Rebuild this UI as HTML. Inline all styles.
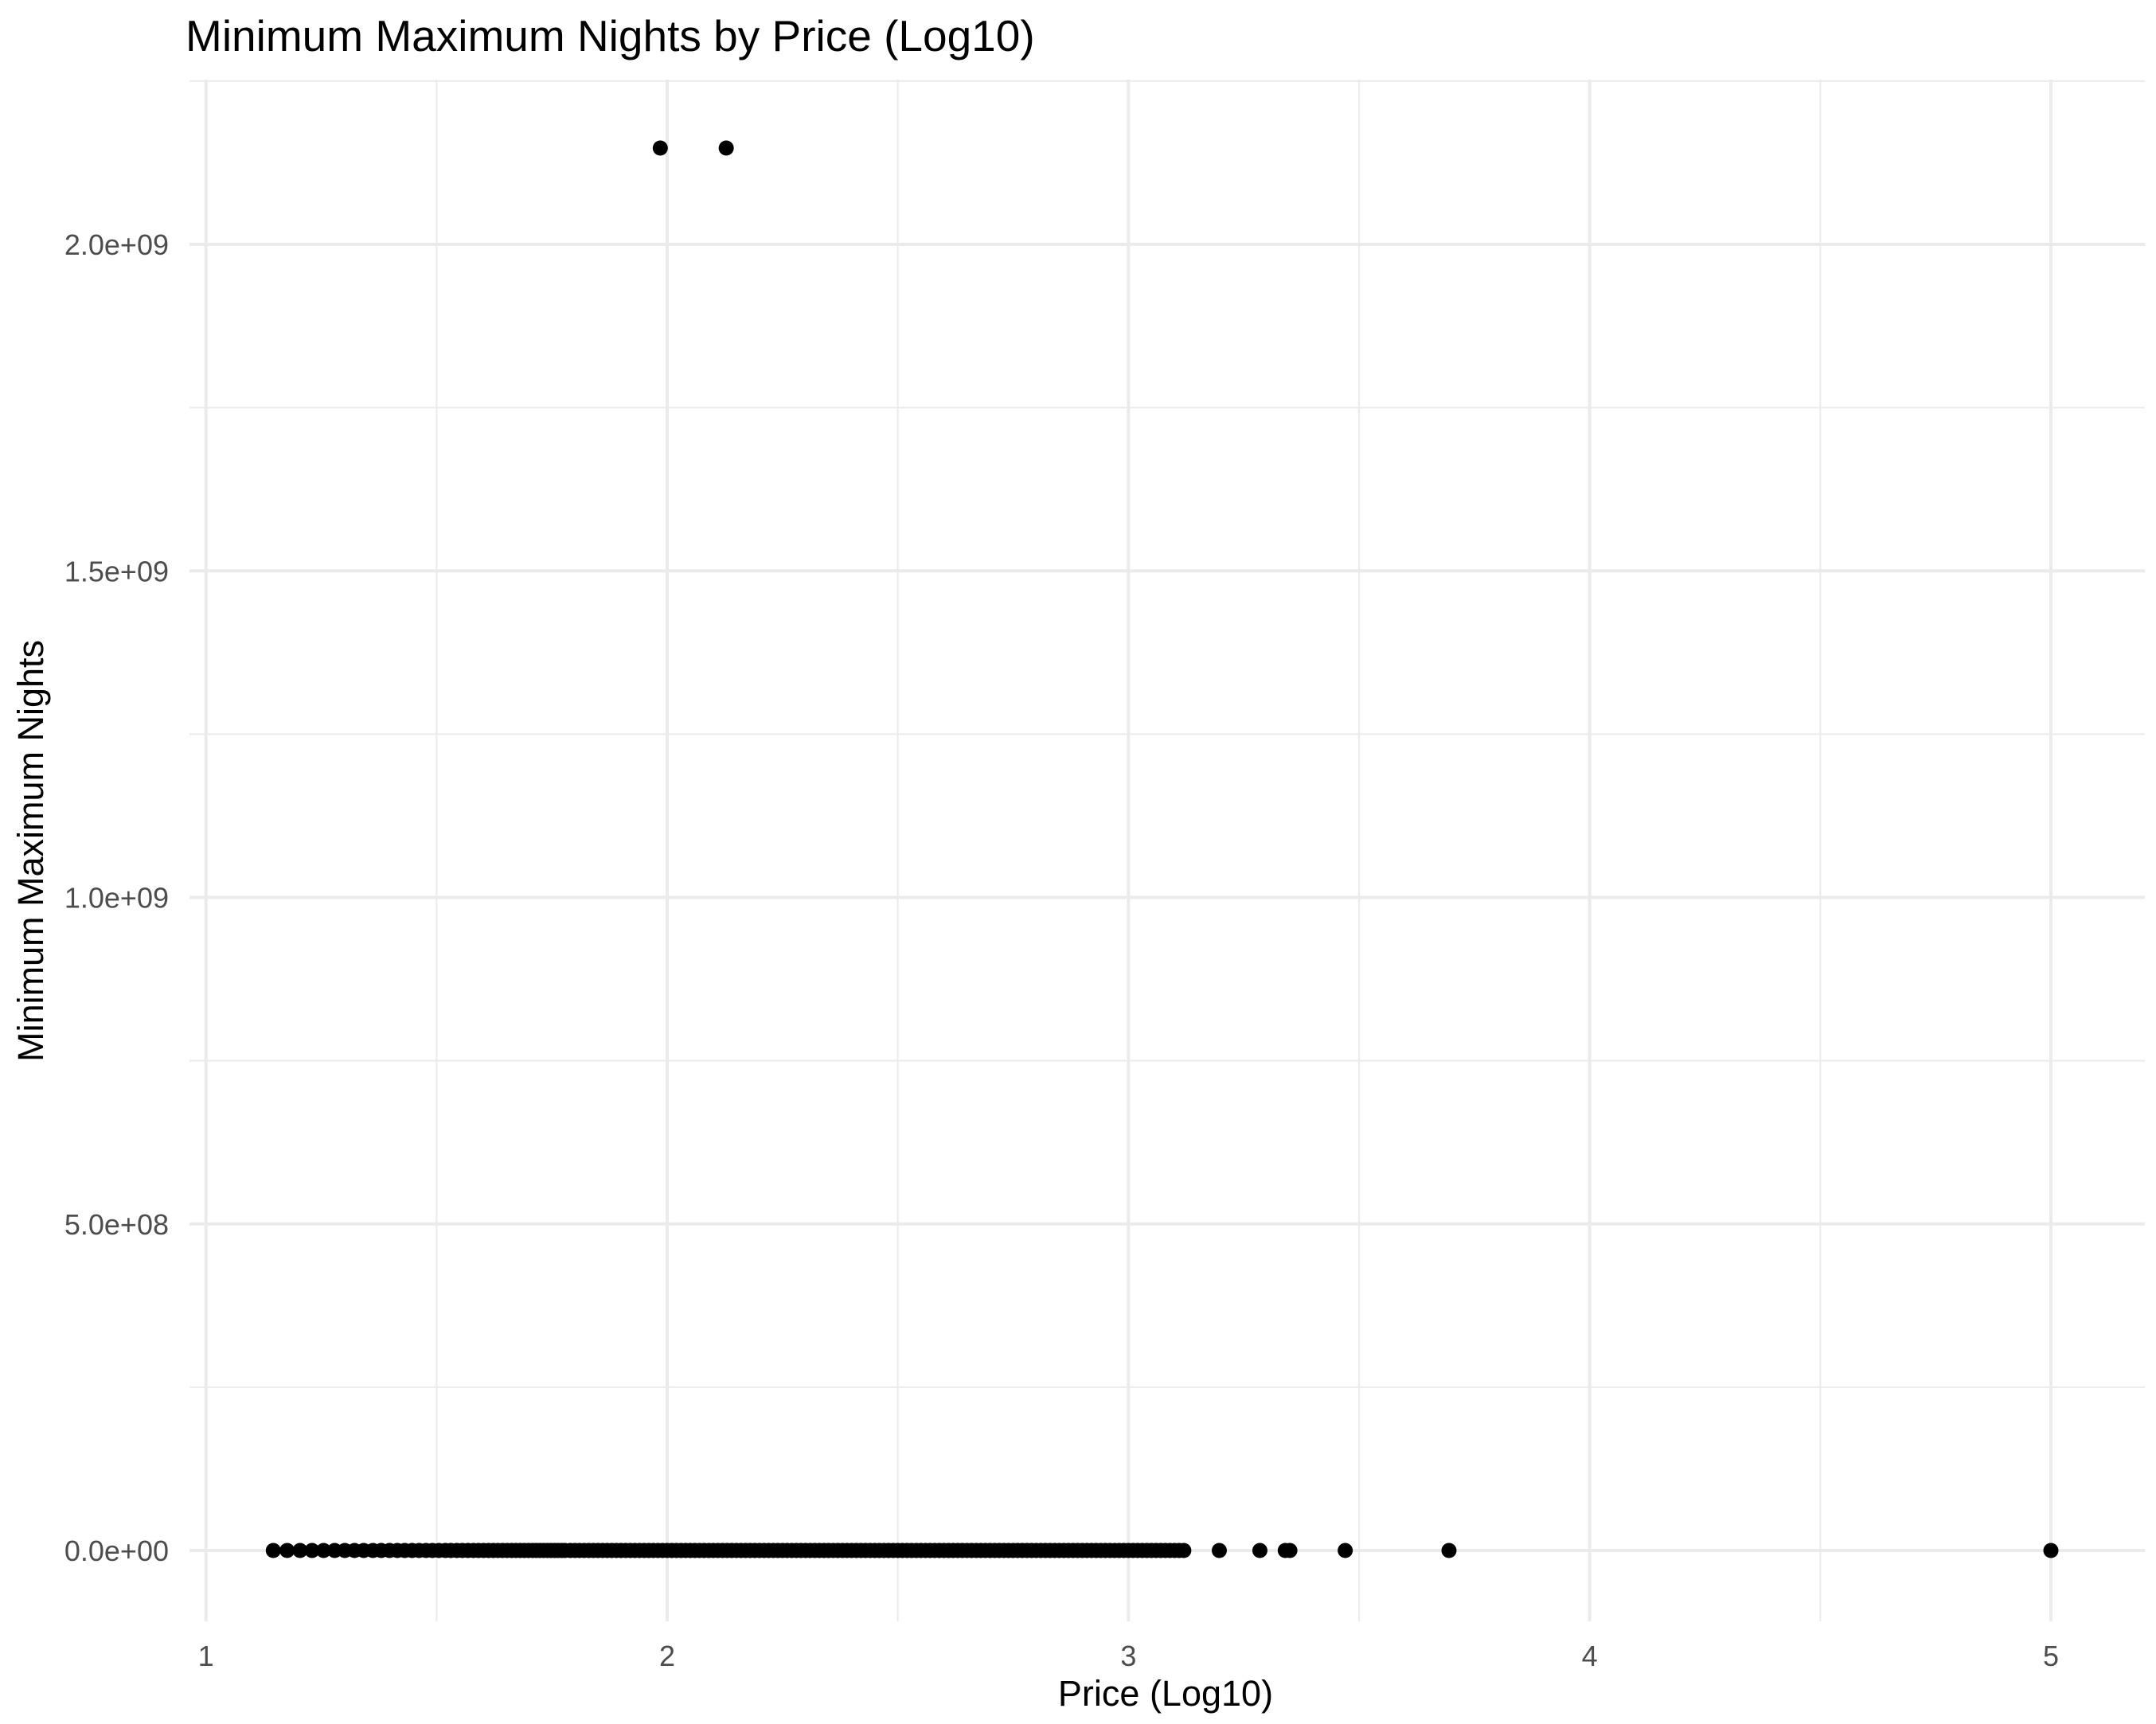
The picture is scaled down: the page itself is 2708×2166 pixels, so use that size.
<!DOCTYPE html>
<html><head><meta charset="utf-8"><style>
html,body{margin:0;padding:0;background:#fff;}
svg{display:block;font-family:"Liberation Sans",sans-serif;}
</style></head><body>
<svg id="chart" width="2708" height="2166" viewBox="0 0 2708 2166">
<text x="233" y="64" font-size="55" fill="#000">Minimum Maximum Nights by Price (Log10)</text>
<g id="grid"></g>
<g id="yticks"></g>
<g id="xticks"></g>
<g id="points"></g>
<text x="1464" y="2143" font-size="45" text-anchor="middle" fill="#000">Price (Log10)</text>
<text transform="translate(54,1069) rotate(-90)" font-size="45" text-anchor="middle" fill="#000">Minimum Maximum Nights</text>
</svg>
<script>
const xTicks = [1, 2, 3, 4, 5];
const xTickLabels = ["1", "2", "3", "4", "5"];
const yTicks = [0, 5e8, 1e9, 1.5e9, 2e9];
const yTickLabels = ["0.0e+00", "5.0e+08", "1.0e+09", "1.5e+09", "2.0e+09"];
const outlierPrices = [1.985, 2.128];
const outlierValues = [2147483647, 2147483647];
const basePrices = [1.146,1.176,1.204,1.230,1.255,1.279,1.301,1.322,1.342,1.362,1.380,1.398,1.415,1.431,1.447,1.462,1.477,1.491,1.505,1.519,1.531,1.544,1.556,1.568,1.580,1.591,1.602,1.613,1.623,1.633,1.643,1.653,1.663,1.672,1.681,1.690,1.699,1.708,1.716,1.724,1.732,1.740,1.748,1.756,1.763,1.771,1.778,
1.79,1.80,1.81,1.82,1.83,1.84,1.85,1.86,1.87,1.88,1.89,1.90,1.91,1.92,1.93,1.94,1.95,1.96,1.97,1.98,1.99,
2.00,2.01,2.02,2.03,2.04,2.05,2.06,2.07,2.08,2.09,2.10,2.11,2.12,2.13,2.14,2.15,2.16,2.17,2.18,2.19,
2.20,2.21,2.22,2.23,2.24,2.25,2.26,2.27,2.28,2.29,2.30,2.31,2.32,2.33,2.34,2.35,2.36,2.37,2.38,2.39,
2.40,2.41,2.42,2.43,2.44,2.45,2.46,2.47,2.48,2.49,2.50,2.51,2.52,2.53,2.54,2.55,2.56,2.57,2.58,2.59,
2.60,2.61,2.62,2.63,2.64,2.65,2.66,2.67,2.68,2.69,2.70,2.71,2.72,2.73,2.74,2.75,2.76,2.77,2.78,2.79,
2.80,2.81,2.82,2.83,2.84,2.85,2.86,2.87,2.88,2.89,2.90,2.91,2.92,2.93,2.94,2.95,2.96,2.97,2.98,2.99,
3.00,3.01,3.02,3.03,3.04,3.05,3.06,3.07,3.08,3.09,3.10,3.11,3.12,
3.197,3.285,3.34,3.35,3.47,3.695,5.0];
const baseValues = basePrices.map(() => 0);

const svg = document.getElementById('chart');
const NS = 'http://www.w3.org/2000/svg';
const X0 = 258.7, X5 = 2576, Y0 = 1948, Y2 = 307;
const PL = 238, PR = 2694, PT = 100, PB = 2037;
function sx(v){ return X0 + (v - 1) * (X5 - X0) / 4; }
function sy(v){ return Y0 - v * (Y0 - Y2) / 2e9; }
function mk(tag, attrs, parent){ const e = document.createElementNS(NS, tag); for (const k in attrs) e.setAttribute(k, attrs[k]); parent.appendChild(e); return e; }

const grid = document.getElementById('grid');
for (let i = 0; i < yTicks.length; i++) {
  const v = yTicks[i] + 2.5e8;
  const l = mk('line', {x1: PL, x2: PR, y1: sy(v), y2: sy(v), stroke: '#ebebeb', 'stroke-width': 2}, grid);
  
  
}
for (let i = 0; i < xTicks.length; i++) {
  const v = xTicks[i] + 0.5;
  if (sx(v) > PR) continue;
  const l = mk('line', {x1: sx(v), x2: sx(v), y1: PT, y2: PB, stroke: '#ebebeb', 'stroke-width': 2}, grid);
  
  
}
const yt = document.getElementById('yticks');
for (let i = 0; i < yTicks.length; i++) {
  const l = mk('line', {x1: PL, x2: PR, y1: sy(yTicks[i]), y2: sy(yTicks[i]), stroke: '#ebebeb', 'stroke-width': 4}, grid);
  
  
  const t = mk('text', {x: 212, y: sy(yTicks[i]) + 13, 'font-size': 36, 'text-anchor': 'end', fill: '#4d4d4d'}, yt);
  t.textContent = yTickLabels[i];
  
  
}
const xt = document.getElementById('xticks');
for (let i = 0; i < xTicks.length; i++) {
  const l = mk('line', {x1: sx(xTicks[i]), x2: sx(xTicks[i]), y1: PT, y2: PB, stroke: '#ebebeb', 'stroke-width': 4}, grid);
  
  
  const t = mk('text', {x: sx(xTicks[i]), y: 2093, 'font-size': 36, 'text-anchor': 'middle', fill: '#4d4d4d'}, xt);
  t.textContent = xTickLabels[i];
  
  
}
const pts = document.getElementById('points');
function drawPts(xs, ys){
  for (let i = 0; i < xs.length; i++) {
    const c = mk('circle', {cx: sx(xs[i]), cy: sy(ys[i]), r: 9.5, fill: '#000'}, pts);
    
    
  }
}
drawPts(basePrices, baseValues);
drawPts(outlierPrices, outlierValues);
</script>
</body></html>
